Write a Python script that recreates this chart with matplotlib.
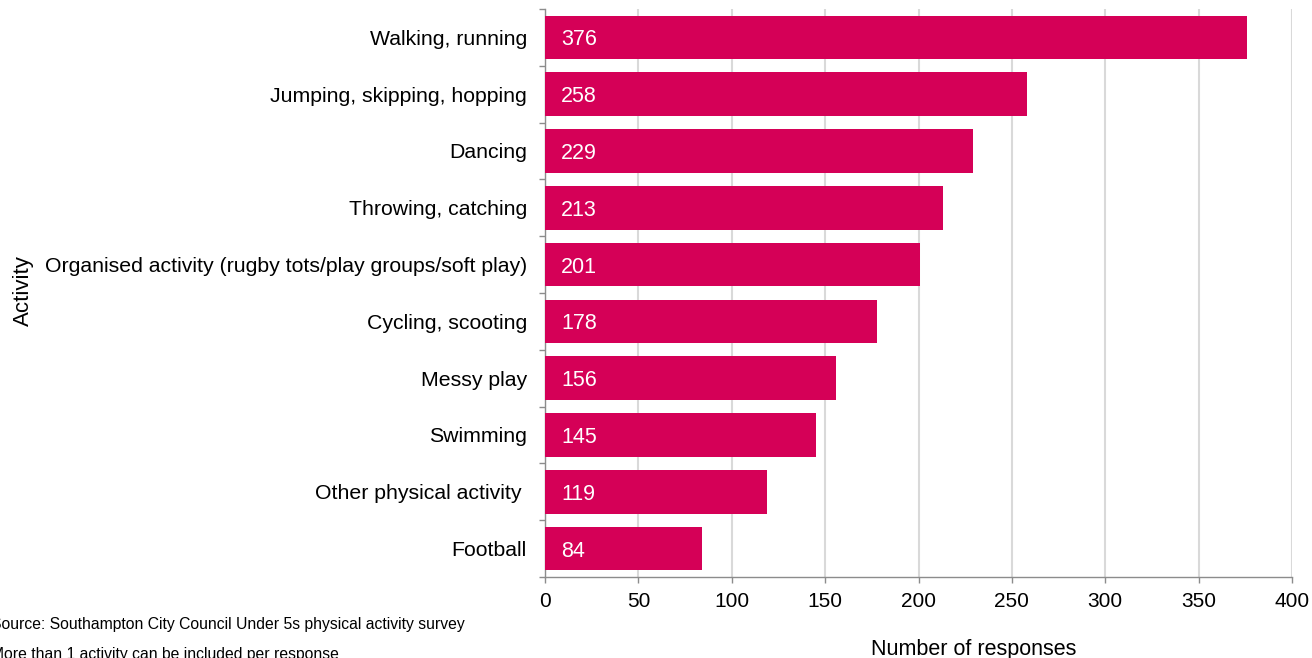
import numpy as np
import matplotlib.pyplot as plt
from matplotlib.ticker import FixedLocator

plt.rcParams['font.family'] = ['Liberation Sans', 'DejaVu Sans']

# survey responses, top of chart first
activities = ["Walking, running", "Jumping, skipping, hopping", "Dancing",
              "Throwing, catching",
              "Organised activity (rugby tots/play groups/soft play)",
              "Cycling, scooting", "Messy play", "Swimming",
              "Other physical activity ", "Football"]
responses = [376, 258, 229, 213, 201, 178, 156, 145, 119, 84]
xticks = [0, 50, 100, 150, 200, 250, 300, 350, 400]

bar_color = "#D50057"
spine_color = "#8C8C8C"
W, H = 1312, 658

fig = plt.figure(figsize=(W / 100, H / 100), dpi=100)
ax = fig.add_axes([545 / W, 81 / H, 747 / W, 568 / H])

y = np.arange(len(activities))[::-1]
ax.barh(y, responses, height=0.77, color=bar_color, zorder=3)

# value labels inside the bars
for yi, v in zip(y, responses):
    ax.annotate(str(v), xy=(0, yi), xytext=(11.5, 0), textcoords="offset points",
                ha="left", va="center_baseline", color="white", fontsize=15.5, zorder=4)

ax.set_xlim(0, 400)
ax.set_ylim(-0.5, len(activities) - 0.5)
ax.set_xticks(xticks)
ax.set_xticklabels([str(t) for t in xticks], fontsize=15)
ax.set_yticks(y)
ax.set_yticklabels(activities, fontsize=15.3)
ax.tick_params(axis="y", which="major", length=0, pad=13)
ax.yaxis.set_minor_locator(FixedLocator(np.arange(-0.5, len(activities), 1.0)))
ax.tick_params(axis="y", which="minor", length=4, color=spine_color, width=1)
ax.tick_params(axis="x", length=4, color=spine_color, width=1, pad=7)

ax.grid(axis="x", color="#D9D9D9", linewidth=1.5, zorder=0)
for side in ["top", "right"]:
    ax.spines[side].set_visible(False)
for side in ["left", "bottom"]:
    ax.spines[side].set_color(spine_color)
    ax.spines[side].set_linewidth(1)

fig.text(23 / W, 1 - 291 / H, "Activity", rotation=90, ha="center", va="center", fontsize=16)
fig.text(974 / W, 1 - 649 / H, "Number of responses", ha="center", va="center", fontsize=15.5)

fig.text(-9 / W, 1 - 625 / H, "Source: Southampton City Council Under 5s physical activity survey",
         ha="left", va="center", fontsize=11.3)
fig.text(-9 / W, 1 - 655 / H, "More than 1 activity can be included per response",
         ha="left", va="center", fontsize=11.3)

fig.savefig("out.png", dpi=100)
